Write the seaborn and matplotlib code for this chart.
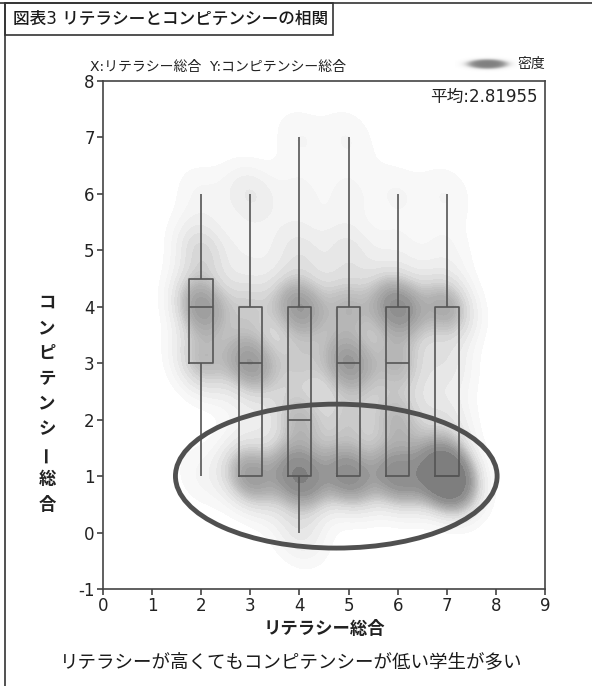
import numpy as np
import pandas as pd
import matplotlib
matplotlib.use("Agg")
import matplotlib.pyplot as plt
import seaborn as sns
from matplotlib.patches import Ellipse, Rectangle
from matplotlib.lines import Line2D
from matplotlib.colors import LinearSegmentedColormap

# Competency score (0-7) counts for each literacy score group
competency_scores = [0, 1, 2, 3, 4, 5, 6, 7]
counts_lit2 = [0, 1, 0, 4, 6, 3, 1, 0]
counts_lit3 = [0, 6, 1, 6, 3, 1, 2, 0]
counts_lit4 = [2, 8, 4, 3, 6, 2, 1, 1]
counts_lit5 = [0, 7, 3, 6, 4, 2, 1, 1]
counts_lit6 = [0, 7, 4, 4, 7, 1, 1, 0]
counts_lit7 = [0, 13, 2, 2, 5, 1, 1, 0]
literacy_levels = [2, 3, 4, 5, 6, 7]

x_ticks = list(range(0, 10))
y_ticks = list(range(-1, 9))

title = "図表3 リテラシーとコンピテンシーの相関"
subtitle = "X:リテラシー総合  Y:コンピテンシー総合"
legend_label = "密度"
x_label = "リテラシー総合"
y_label = "コンピテンシー総合"
caption = "リテラシーが高くてもコンピテンシーが低い学生が多い"

# Long-form table: one row per student
group_counts = [counts_lit2, counts_lit3, counts_lit4, counts_lit5, counts_lit6, counts_lit7]
rows = []
for lit, counts in zip(literacy_levels, group_counts):
    for comp, c in zip(competency_scores, counts):
        rows += [(lit, comp)] * c
df = pd.DataFrame(rows, columns=["literacy", "competency"])
mean_comp = df["competency"].mean()

sns.set_style("ticks")
plt.rcParams["font.family"] = ["DejaVu Sans", "Noto Sans CJK JP"]
plt.rcParams["axes.unicode_minus"] = False

W, H = 592, 686
fig = plt.figure(figsize=(W / 100, H / 100), dpi=100)
ax = fig.add_axes([103 / W, 1 - 589 / H, (545 - 103) / W, (589 - 81) / H])

ink = "#333333"
line_gray = "#555555"
text_col = "#222222"

# Density shading (filled contours): pale fringe, gray body, darker cores
density_cmap = LinearSegmentedColormap.from_list(
    "dens",
    [(0.0, "#fafafa"), (0.08, "#f1f1f1"), (0.2, "#dadada"), (0.33, "#b6b6b6"),
     (0.48, "#979797"), (0.68, "#838383"), (1.0, "#777777")])
sns.kdeplot(data=df, x="literacy", y="competency", fill=True, cmap=density_cmap,
            levels=20, thresh=0.025, bw_adjust=0.56, ax=ax, zorder=1)

# Box plots per literacy group (whiskers at min / max)
sns.boxplot(data=df, x="literacy", y="competency", native_scale=True, orient="x",
            whis=(0, 100), width=0.48, fill=False, color=line_gray, linewidth=1.2,
            showcaps=False, showfliers=False, ax=ax, zorder=3)

# Highlight ring around the low-competency cluster
ax.add_patch(Ellipse((4.75, 1.0), width=6.55, height=2.55, fill=False,
                     lw=3.5, ec="#505050", zorder=4))

ax.set_xlim(0, 9)
ax.set_ylim(-1, 8)
ax.set_xticks(x_ticks)
ax.set_yticks(y_ticks)
ax.tick_params(direction="out", length=4.5, width=1.1, color=ink, pad=1.5,
               labelsize=12, labelcolor=text_col)
for s in ax.spines.values():
    s.set_visible(True)
    s.set_color("#444444")
    s.set_linewidth(1.2)
ax.set_xlabel(x_label, fontsize=12.5, fontweight="bold", color=text_col, labelpad=3)
ax.set_ylabel("")

ax.text(0.984, 0.9685, f"平均:{mean_comp:.5f}", transform=ax.transAxes, ha="right",
        va="center", fontsize=12, color=text_col)

# Vertical y-axis label, one character per line
for i, ch in enumerate(y_label):
    yy = 1 - (303 + i * 25.2) / H
    rot = 90 if ch == "ー" else 0
    fig.text(47 / W, yy, ch, rotation=rot, ha="center", va="center",
             fontsize=12.5, fontweight="bold", color=text_col)

# Header texts
fig.text(90 / W, 1 - 67 / H, subtitle, ha="left", va="center", fontsize=10, color=text_col)
fig.text(517 / W, 1 - 64 / H, legend_label, ha="left", va="center", fontsize=10, color=text_col)

# Legend swatch: soft gray blob
lax = fig.add_axes([455 / W, 1 - 73 / H, 64 / W, 18 / H])
gx, gy = np.meshgrid(np.linspace(-1, 1, 128), np.linspace(-1, 1, 40))
r = np.sqrt((gx / 0.82) ** 2 + (gy / 0.72) ** 2)
swatch = np.zeros((40, 128, 4))
swatch[..., :3] = 0.5
swatch[..., 3] = 1.0 / (1.0 + np.exp((r - 0.72) / 0.11))
lax.imshow(swatch, aspect="auto", interpolation="bilinear")
lax.axis("off")

# Title box and page frame
fig.add_artist(Line2D([0, 1], [1 - 3 / H, 1 - 3 / H], transform=fig.transFigure,
                      color=ink, lw=1.2))
fig.add_artist(Line2D([5 / W, 5 / W], [0, 1 - 3 / H], transform=fig.transFigure,
                      color=ink, lw=1.2))
fig.add_artist(Rectangle((5 / W, 1 - 35 / H), (333 - 5) / W, 32 / H,
                         transform=fig.transFigure, fill=False, ec=ink, lw=1.2))
fig.text(13 / W, 1 - 19 / H, title, ha="left", va="center", fontsize=12,
         fontweight="medium", color="#1a1a1a")

fig.text(60 / W, 1 - 662 / H, caption, ha="left", va="center", fontsize=13.3,
         color="#1a1a1a")

fig.savefig("out.png", dpi=100)
